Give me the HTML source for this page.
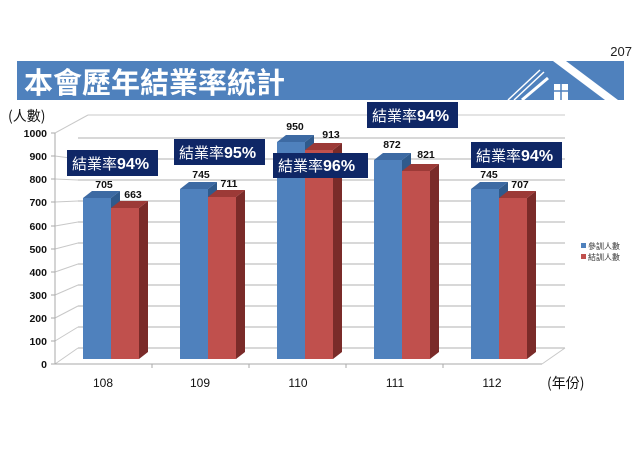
<!DOCTYPE html>
<html><head><meta charset="utf-8"><style>
body{margin:0;background:#fff;width:640px;height:452px;overflow:hidden}
svg{display:block}
</style></head><body>
<svg width="640" height="452" xmlns="http://www.w3.org/2000/svg" font-family="Liberation Sans, 'Noto Sans CJK TC', sans-serif">
<text x="632" y="56" font-size="13" text-anchor="end" fill="#222">207</text>
<rect x="17" y="61" width="607" height="39" fill="#4f81bd"/>
<text x="24" y="93" font-size="29" font-weight="bold" fill="#fff" font-family="'Noto Sans CJK TC', sans-serif">本會歷年結業率統計</text>
<g stroke="#fff" fill="none">
<polygon points="553,61 566,61 618,100 605,100" fill="#fff" stroke="none"/>
<line x1="508" y1="100" x2="540" y2="70" stroke-width="1.5"/>
<line x1="514" y1="100" x2="544" y2="72" stroke-width="1.5"/>
<line x1="522" y1="100" x2="548" y2="78" stroke-width="3"/>
</g>
<rect x="554" y="84" width="14" height="16" fill="#fff"/>
<line x1="561" y1="84" x2="561" y2="100" stroke="#4f81bd" stroke-width="1.5"/>
<line x1="554" y1="91" x2="568" y2="91" stroke="#4f81bd" stroke-width="1.5"/>

<text x="8" y="121" font-size="14" fill="#111" font-family="'Noto Sans CJK TC', sans-serif">(人數)</text>
<g stroke="#c8c8c8" stroke-width="1">
<line x1="88" y1="115" x2="565" y2="115"/>
<line x1="55" y1="133" x2="88" y2="115"/>
<g id="g"></g>
</g>
<g stroke="#c0c0c0" stroke-width="1.2">
<line x1="78" y1="348" x2="565" y2="348"/><line x1="78" y1="327" x2="565" y2="327"/>
<line x1="78" y1="306" x2="565" y2="306"/><line x1="78" y1="285" x2="565" y2="285"/>
<line x1="78" y1="264" x2="565" y2="264"/><line x1="78" y1="243" x2="565" y2="243"/>
<line x1="78" y1="222" x2="565" y2="222"/><line x1="78" y1="201" x2="565" y2="201"/>
<line x1="78" y1="180" x2="565" y2="180"/><line x1="78" y1="159" x2="565" y2="159"/>
<line x1="78" y1="138" x2="565" y2="138"/>
</g>
<g stroke="#c8c8c8" stroke-width="1">
<line x1="55" y1="364" x2="78" y2="348"/><line x1="55" y1="341" x2="78" y2="327"/>
<line x1="55" y1="318" x2="78" y2="306"/><line x1="55" y1="295" x2="78" y2="285"/>
<line x1="55" y1="272" x2="78" y2="264"/><line x1="55" y1="249" x2="78" y2="243"/>
<line x1="55" y1="226" x2="78" y2="222"/><line x1="55" y1="202" x2="78" y2="201"/>
<line x1="55" y1="179" x2="78" y2="180"/><line x1="55" y1="156" x2="78" y2="159"/>
<line x1="542" y1="364" x2="565" y2="348"/>
</g>
<g stroke="#aaa" stroke-width="1">
<line x1="55" y1="133" x2="55" y2="364"/><line x1="55" y1="364" x2="542" y2="364"/>
<line x1="51" y1="364" x2="55" y2="364"/><line x1="51" y1="341" x2="55" y2="341"/>
<line x1="51" y1="318" x2="55" y2="318"/><line x1="51" y1="295" x2="55" y2="295"/>
<line x1="51" y1="272" x2="55" y2="272"/><line x1="51" y1="249" x2="55" y2="249"/>
<line x1="51" y1="226" x2="55" y2="226"/><line x1="51" y1="202" x2="55" y2="202"/>
<line x1="51" y1="179" x2="55" y2="179"/><line x1="51" y1="156" x2="55" y2="156"/>
<line x1="51" y1="133" x2="55" y2="133"/>
<line x1="152" y1="364" x2="152" y2="368"/><line x1="249" y1="364" x2="249" y2="368"/>
<line x1="346" y1="364" x2="346" y2="368"/><line x1="443" y1="364" x2="443" y2="368"/>
</g>
<g font-size="10.5" font-weight="bold" text-anchor="end" fill="#111">
<text x="47" y="368">0</text><text x="47" y="345">100</text><text x="47" y="322">200</text>
<text x="47" y="299">300</text><text x="47" y="276">400</text><text x="47" y="253">500</text>
<text x="47" y="230">600</text><text x="47" y="206">700</text><text x="47" y="183">800</text>
<text x="47" y="160">900</text><text x="47" y="137">1000</text>
</g>

<!-- bars: bottom 359, scale .2284 -->
<g id="bars">
<!-- 108 -->
<polygon points="111,198 120,191 120,352 111,359" fill="#2f5a8c"/>
<polygon points="83,198 92,191 120,191 111,198" fill="#3d6aa3"/>
<rect x="83" y="198" width="28" height="161" fill="#4f81bd"/>
<polygon points="139,208 148,201 148,352 139,359" fill="#7a2b29"/>
<polygon points="111,208 120,201 148,201 139,208" fill="#9c3a37"/>
<rect x="111" y="208" width="28" height="151" fill="#c0504d"/>
<!-- 109 -->
<polygon points="208,189 217,182 217,352 208,359" fill="#2f5a8c"/>
<polygon points="180,189 189,182 217,182 208,189" fill="#3d6aa3"/>
<rect x="180" y="189" width="28" height="170" fill="#4f81bd"/>
<polygon points="236,197 245,190 245,352 236,359" fill="#7a2b29"/>
<polygon points="208,197 217,190 245,190 236,197" fill="#9c3a37"/>
<rect x="208" y="197" width="28" height="162" fill="#c0504d"/>
<!-- 110 -->
<polygon points="305,142 314,135 314,352 305,359" fill="#2f5a8c"/>
<polygon points="277,142 286,135 314,135 305,142" fill="#3d6aa3"/>
<rect x="277" y="142" width="28" height="217" fill="#4f81bd"/>
<polygon points="333,150 342,143 342,352 333,359" fill="#7a2b29"/>
<polygon points="305,150 314,143 342,143 333,150" fill="#9c3a37"/>
<rect x="305" y="150" width="28" height="209" fill="#c0504d"/>
<!-- 111 -->
<polygon points="402,160 411,153 411,352 402,359" fill="#2f5a8c"/>
<polygon points="374,160 383,153 411,153 402,160" fill="#3d6aa3"/>
<rect x="374" y="160" width="28" height="199" fill="#4f81bd"/>
<polygon points="430,171 439,164 439,352 430,359" fill="#7a2b29"/>
<polygon points="402,171 411,164 439,164 430,171" fill="#9c3a37"/>
<rect x="402" y="171" width="28" height="188" fill="#c0504d"/>
<!-- 112 -->
<polygon points="499,189 508,182 508,352 499,359" fill="#2f5a8c"/>
<polygon points="471,189 480,182 508,182 499,189" fill="#3d6aa3"/>
<rect x="471" y="189" width="28" height="170" fill="#4f81bd"/>
<polygon points="527,198 536,191 536,352 527,359" fill="#7a2b29"/>
<polygon points="499,198 508,191 536,191 527,198" fill="#9c3a37"/>
<rect x="499" y="198" width="28" height="161" fill="#c0504d"/>
</g>
<g font-size="10.5" font-weight="bold" fill="#111" text-anchor="middle">
<text x="104" y="188">705</text><text x="133" y="198">663</text>
<text x="201" y="178">745</text><text x="229" y="187">711</text>
<text x="295" y="130">950</text><text x="331" y="138">913</text>
<text x="392" y="148">872</text><text x="426" y="158">821</text>
<text x="489" y="178">745</text><text x="520" y="188">707</text>
</g>
<g font-size="12" fill="#111" text-anchor="middle">
<text x="103" y="387">108</text><text x="200" y="387">109</text><text x="298" y="387">110</text>
<text x="395" y="387">111</text><text x="492" y="387">112</text>
</g>
<text x="547" y="388" font-size="14" fill="#111" font-family="'Noto Sans CJK TC', sans-serif">(年份)</text>

<g fill="#0f2766">
<rect x="67" y="150" width="91" height="26"/>
<rect x="174" y="139" width="91" height="26"/>
<rect x="273" y="153" width="95" height="25"/>
<rect x="367" y="102" width="91" height="26"/>
<rect x="471" y="142" width="91" height="26"/>
</g>
<g fill="#fff" font-size="15" font-family="'Noto Sans CJK TC', sans-serif">
<text x="72" y="169">結業率<tspan font-family="Liberation Sans" font-weight="bold" font-size="16">94%</tspan></text>
<text x="179" y="158">結業率<tspan font-family="Liberation Sans" font-weight="bold" font-size="16">95%</tspan></text>
<text x="278" y="171">結業率<tspan font-family="Liberation Sans" font-weight="bold" font-size="16">96%</tspan></text>
<text x="372" y="121">結業率<tspan font-family="Liberation Sans" font-weight="bold" font-size="16">94%</tspan></text>
<text x="476" y="161">結業率<tspan font-family="Liberation Sans" font-weight="bold" font-size="16">94%</tspan></text>
</g>
<rect x="581" y="243" width="5" height="5" fill="#4f81bd"/>
<rect x="581" y="254" width="5" height="5" fill="#c0504d"/>
<g font-size="8" fill="#333" font-family="'Noto Sans CJK TC', sans-serif">
<text x="588" y="249">參訓人數</text><text x="588" y="260">結訓人數</text>
</g>
</svg>
</body></html>
